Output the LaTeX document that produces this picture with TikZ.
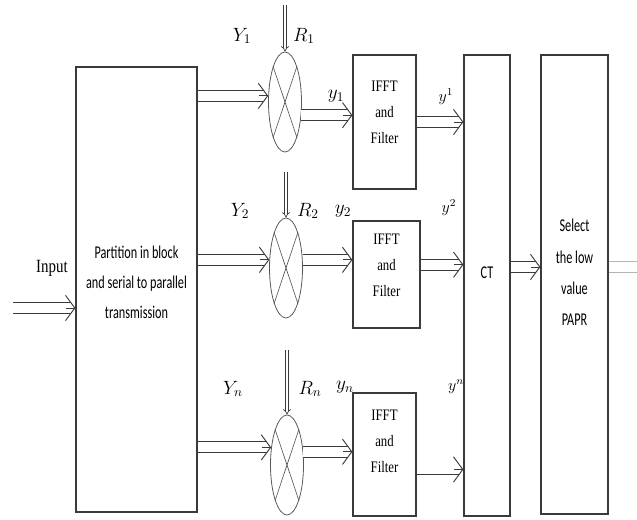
\documentclass[tikz,border=0pt]{standalone}
\usepackage{fontspec}
\usepackage{amsmath}
\setmainfont{Liberation Serif}
\newfontfamily\calibri[FakeStretch=0.68]{Carlito}
\newfontfamily\timesnarrow[FakeStretch=0.8]{Liberation Serif}
\usetikzlibrary{arrows.meta,shapes.geometric}
\definecolor{BlockInk}{HTML}{3A3A3A}
\definecolor{FadeInk}{HTML}{B4B4B4}

% hollow double arrow, left to right
\newcommand\busline[2]{%
    \draw[bus] (#1) -- (#2);
    \path (#2) coordinate (bus end);
    \draw[bus head] ([xshift=-7pt]bus end) -- (bus end);
}

\begin{document}
\begin{tikzpicture}[
    x=0.75pt, y=-0.75pt,
    block/.style={
        draw=BlockInk,
        line width=0.9pt,
        inner sep=0pt
    },
    mixer/.style={ellipse, draw=BlockInk!85, line width=0.6pt, inner sep=0pt,
                  minimum width=24.75pt, minimum height=75pt},
    cross/.style={draw=BlockInk!85, line width=0.5pt},
    bus/.style={draw=BlockInk, line width=0.7pt, double, double distance=7.5pt,
                shorten >=3pt},
    bus head/.style={draw=BlockInk, line width=0.7pt,
                     -{Straight Barb[length=7pt,width=19pt]}},
    refbus/.style={draw=BlockInk, line width=0.5pt, double, double distance=1.6pt,
                   -{Implies}},
    sans text/.style={align=center, inner sep=0pt,
                      font=\calibri\fontsize{13.5}{22.5}\selectfont},
    serif text/.style={align=center, inner sep=0pt,
                       font=\timesnarrow\fontsize{12}{19.5}\selectfont},
    sig/.style={inner sep=0pt, font=\Large}
]
    \useasboundingbox (0,0) rectangle (637,520);

    % partition block and input
    \node[block, minimum width=90.75pt, minimum height=333.75pt] (part) at (136.5,289.5) {};
    \node[sans text] (partt) at (136.5,282)
        {Partition in block\\and serial to parallel\\transmission};
    \coordinate (inp) at (13,308);
    \node[inner sep=0pt, font=\timesnarrow\fontsize{14}{16}\selectfont] (inlabel) at (52,268) {Input};
    \busline{inp}{inp -| part.west}

    % mixers
    \node[mixer] (m1) at (285,102) {};
    \node[mixer] (m2) at (286,268) {};
    \node[mixer] (m3) at (287,465) {};
    \foreach \m in {m1,m2,m3} {
        \draw[cross] (\m.north west) -- (\m.south east);
        \draw[cross] (\m.north east) -- (\m.south west);
    }
    \coordinate (r1) at (285,5);
    \coordinate (r2) at (286,172);
    \coordinate (r3) at (287,350);
    \draw[refbus] (r1) -- (m1.north);
    \draw[refbus] (r2) -- (m2.north);
    \draw[refbus] (r3) -- (m3.north);

    \busline{part.east |- m1.160}{m1.160}
    \busline{part.east |- m2.154}{m2.154}
    \busline{part.east |- m3.132}{m3.132}

    % IFFT and filter blocks
    \node[block, minimum width=47.25pt, minimum height=100.5pt] (f1) at (384.5,122) {};
    \node[block, minimum width=50.25pt, minimum height=80.25pt] (f2) at (386.5,274.5) {};
    \node[block, minimum width=47.25pt, minimum height=92.25pt] (f3) at (384.5,454.5) {};
    \node[serif text] (f1t) at (384.5,112) {IFFT\\and\\Filter};
    \node[serif text] (f2t) at (386.5,265) {IFFT\\and\\Filter};
    \node[serif text] (f3t) at (384.5,441) {IFFT\\and\\Filter};

    \busline{m1.321}{m1.321 -| f1.west}
    \busline{m2.26}{m2.26 -| f2.west}
    \busline{m3.39}{m3.39 -| f3.west}

    % CT and selection
    \node[block, minimum width=34.5pt, minimum height=345.75pt] (ct) at (487,285.5) {};
    \node[block, minimum width=50.25pt, minimum height=344.25pt] (sel) at (574.5,284.5) {};
    \node[sans text] (ctt) at (487,273) {CT};
    \node[sans text, font=\calibri\fontsize{13.5}{23.5}\selectfont] (selt) at (574.5,272.5)
        {Select\\the low\\value\\PAPR};

    \busline{f1.east}{f1.east -| ct.west}
    \busline{f2.16}{f2.16 -| ct.west}
    \busline{f3.335}{f3.335 -| ct.west}

    \coordinate (mid) at (525,267);
    \coordinate (out) at (637,267);
    \busline{ct.east |- mid}{sel.west |- mid}
    \draw[bus, draw=FadeInk, shorten >=0pt] (sel.east |- mid) -- (out);

    % signal labels
    \node[sig] (Y1) at (242,36) {$Y_1$};
    \node[sig] (R1) at (304,36) {$R_1$};
    \node[sig] (ys1) at (336,96) {$y_1$};
    \node[sig] (Y2) at (240,211) {$Y_2$};
    \node[sig] (R2) at (308,211) {$R_2$};
    \node[sig] (ys2) at (343,211) {$y_2$};
    \node[sig] (Yn) at (233,389) {$Y_n$};
    \node[sig] (Rn) at (310,389) {$R_n$};
    \node[sig] (ysn) at (345,387) {$y_n$};
    \node[sig, font=\large] (yu1) at (446,97) {$y^1$};
    \node[sig, font=\large] (yu2) at (449,208) {$y^2$};
    \node[sig, font=\large] (yun) at (456,387) {$y^n$};
\end{tikzpicture}
\end{document}
